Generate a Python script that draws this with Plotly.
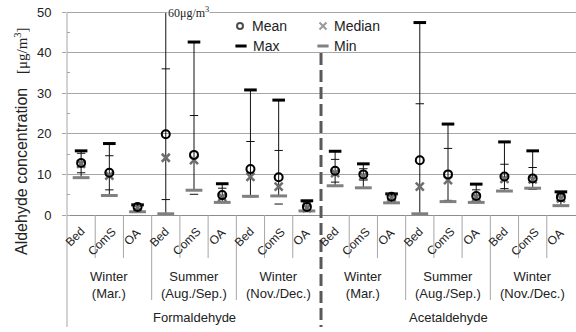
import plotly.graph_objects as go

# Sampling sites, seasons and compounds (one entry per category / group)
samples = ["Bed", "ComS", "OA"] * 6
seasons = ["Winter<br>(Mar.)", "Summer<br>(Aug./Sep.)", "Winter<br>(Nov./Dec.)"] * 2
compounds = ["Formaldehyde", "Acetaldehyde"]

# Concentrations [ug/m3]: first 9 formaldehyde, last 9 acetaldehyde
mean_vals = [12.8, 10.4, 2.0, 19.9, 14.8, 4.9, 11.3, 9.3, 2.0,
             10.9, 10.0, 4.5, 13.5, 10.0, 4.7, 9.5, 9.0, 4.4]
median_vals = [12.6, 9.7, 1.8, 14.1, 13.5, 4.4, 9.4, 7.0, 1.7,
               10.3, 9.6, 4.3, 7.0, 8.6, 4.4, 8.9, 8.8, 4.1]
max_vals = [15.8, 17.6, 2.5, 60.0, 42.6, 7.7, 30.8, 28.3, 3.5,
            15.7, 12.6, 5.2, 47.4, 22.4, 7.6, 18.0, 15.8, 5.7]
min_vals = [9.2, 4.8, 0.8, 0.3, 6.1, 3.1, 4.6, 4.7, 1.0,
            7.2, 6.7, 3.0, 0.3, 3.3, 3.1, 5.9, 6.6, 2.3]
sd_vals = [2.4, 4.2, 0.5, 16.1, 9.7, 1.7, 6.8, 6.6, 1.0,
           2.8, 1.4, 0.7, 13.9, 6.4, 1.5, 3.0, 2.7, 0.8]

W, H = 576, 332
ML, MR, MT, MB = 67, 0, 12, 117
PW, PH = W - ML - MR, H - MT - MB
SANS = "Liberation Sans"
SERIF = "Liberation Serif"
GRID = "#a6a6a6"
TXT = "#222222"


def py(pix):
    """Pixel row -> paper y."""
    return (H - MB - pix) / PH


def pxx(pix):
    """Pixel column -> paper x."""
    return (pix - ML) / PW


xs = list(range(len(samples)))

# Range lines from min to max
lx, ly = [], []
for i in xs:
    lx += [i, i, None]
    ly += [min_vals[i], max_vals[i], None]

sd_x = xs + xs
sd_y = [m + s for m, s in zip(mean_vals, sd_vals)] + [m - s for m, s in zip(mean_vals, sd_vals)]

fig = go.Figure()
fig.add_trace(go.Scatter(x=lx, y=ly, mode="lines", line=dict(color="#111111", width=1),
                         hoverinfo="skip", showlegend=False))
fig.add_trace(go.Scatter(x=sd_x, y=sd_y, mode="markers", showlegend=False,
                         marker=dict(symbol="line-ew", size=6, line=dict(color="#111111", width=1))))
fig.add_trace(go.Scatter(x=xs, y=min_vals, mode="markers", name="Min", showlegend=False,
                         marker=dict(symbol="line-ew", size=12, line=dict(color="#808080", width=3))))
fig.add_trace(go.Scatter(x=xs, y=max_vals, mode="markers", name="Max", showlegend=False,
                         marker=dict(symbol="line-ew", size=9, line=dict(color="#000000", width=3))))
fig.add_trace(go.Scatter(x=xs, y=median_vals, mode="markers", name="Median", showlegend=False,
                         marker=dict(symbol="x-thin-open", size=8, color="#6e6e6e",
                                     line=dict(color="#6e6e6e", width=2.5))))
fig.add_trace(go.Scatter(x=xs, y=mean_vals, mode="markers", name="Mean", showlegend=False,
                         marker=dict(symbol="circle-open", size=8, color="#000000",
                                     line=dict(color="#000000", width=2))))

# Key drawn on an overlay axis in pixel units
fig.add_trace(go.Scatter(
    x=[240, 323], y=[26, 26], mode="markers", xaxis="x2", yaxis="y2", showlegend=False,
    marker=dict(symbol=["circle-open", "x-thin-open"], size=[6, 7], color=["#000000", "#6e6e6e"],
                line=dict(color=["#000000", "#6e6e6e"], width=2))))
fig.add_trace(go.Scatter(
    x=[241, 323], y=[46, 46], mode="markers", xaxis="x2", yaxis="y2", showlegend=False,
    marker=dict(symbol="line-ew", size=8, line=dict(color=["#000000", "#808080"], width=3))))

ann = []
for tx, ty, t in [(250, 26, "Mean"), (332, 26, "Median"), (251, 46, "Max"), (332, 46, "Min")]:
    ann.append(dict(x=tx, y=ty, xref="x2", yref="y2", text=t, showarrow=False,
                    xanchor="left", yanchor="middle", font=dict(family=SANS, size=14, color=TXT)))

# Rotated site labels under each category (centre offsets per label length)
label_pos = {"Bed": (-6, 237.5), "ComS": (-8, 241.5), "OA": (-5, 237.5)}
for i, lab in enumerate(samples):
    dx, cy = label_pos[lab]
    ann.append(dict(x=i, y=py(cy), xref="x", yref="paper", xshift=dx, text=lab, showarrow=False,
                    textangle=-45, xanchor="center", yanchor="middle",
                    font=dict(family=SANS, size=12, color=TXT)))

# Season group labels and compound labels
for g, lab in enumerate(seasons):
    ann.append(dict(x=3 * g + 1, y=py(285), xref="x", yref="paper", text=lab, showarrow=False,
                    xanchor="center", yanchor="middle",
                    font=dict(family=SANS, size=13, color=TXT)))
for c, lab in enumerate(compounds):
    ann.append(dict(x=9 * c + 4, y=py(317), xref="x", yref="paper", text=lab, showarrow=False,
                    xanchor="center", yanchor="middle",
                    font=dict(family=SANS, size=13, color=TXT)))

# Off-scale maximum note
ann.append(dict(x=3, y=1, xref="x", yref="paper", xshift=1, text="60μg/m<sup>3</sup>",
                showarrow=False, xanchor="left", yanchor="middle", bgcolor="white",
                borderpad=0, font=dict(family=SERIF, size=12, color=TXT)))

# Y axis title: sans part and serif unit part
ann.append(dict(x=pxx(21), y=py(172), xref="paper", yref="paper", textangle=-90, showarrow=False,
                text="Aldehyde concentration", xanchor="center", yanchor="middle",
                font=dict(family=SANS, size=16, color=TXT)))
ann.append(dict(x=pxx(21), y=py(51), xref="paper", yref="paper", textangle=-90, showarrow=False,
                text="[μg/m<sup>3</sup>]", xanchor="center", yanchor="middle",
                font=dict(family=SERIF, size=15, color=TXT)))

shapes = []
# Dividers below the axis
for b in range(1, 18):
    if b == 9:
        continue
    bottom = 300 if b % 3 == 0 else 258
    shapes.append(dict(type="line", xref="x", yref="paper", x0=b - 0.5, x1=b - 0.5,
                       y0=0, y1=py(bottom), line=dict(color=GRID, width=1)))
# Left axis line extended down
shapes.append(dict(type="line", xref="paper", yref="paper", x0=0, x1=0, y0=1, y1=py(327),
                   line=dict(color=GRID, width=1)))
# Top border line
shapes.append(dict(type="line", xref="paper", yref="y", x0=0, x1=1, y0=50, y1=50,
                   line=dict(color=GRID, width=2)))
# Compound separator
shapes.append(dict(type="line", xref="x", yref="paper", x0=8.5, x1=8.5, y0=py(53), y1=py(327),
                   line=dict(color="#595959", width=3, dash="12px,5px")))

fig.update_layout(
    width=W, height=H,
    margin=dict(l=ML, r=MR, t=MT, b=MB, pad=0),
    paper_bgcolor="white", plot_bgcolor="white",
    showlegend=False,
    annotations=ann, shapes=shapes,
    xaxis=dict(range=[-0.5, 17.535], showticklabels=False,
               showgrid=False, zeroline=False, showline=True, linecolor="#8c8c8c", linewidth=1,
               ticks=""),
    yaxis=dict(range=[0, 50], dtick=10, showgrid=True, gridcolor=GRID, gridwidth=1,
               zeroline=False, showline=False, ticks="outside", ticklen=4, tickcolor=GRID,
               ticklabelstandoff=8,
               minor=dict(dtick=5, ticks="inside", ticklen=3, tickcolor=GRID, showgrid=False),
               tickfont=dict(family=SANS, size=13, color=TXT)),
    xaxis2=dict(overlaying="x", range=[ML, W - MR], visible=False),
    yaxis2=dict(overlaying="y", range=[H - MB, MT], visible=False),
)

fig.write_html("out.html")
